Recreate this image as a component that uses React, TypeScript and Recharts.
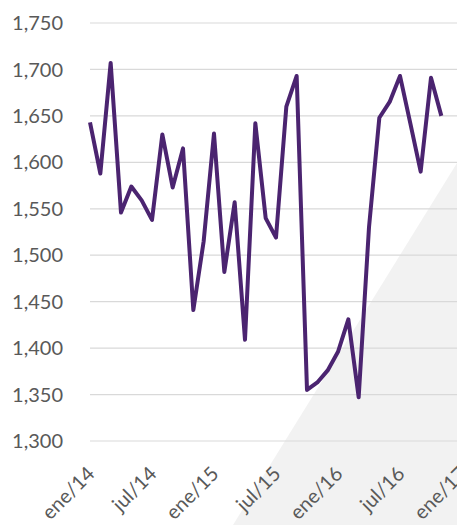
import React from "react";
import { LineChart, Line, XAxis, YAxis, CartesianGrid } from "recharts";

const months = [
    "ene/14", "feb/14", "mar/14", "abr/14", "may/14", "jun/14",
    "jul/14", "ago/14", "sep/14", "oct/14", "nov/14", "dic/14",
    "ene/15", "feb/15", "mar/15", "abr/15", "may/15", "jun/15",
    "jul/15", "ago/15", "sep/15", "oct/15", "nov/15", "dic/15",
    "ene/16", "feb/16", "mar/16", "abr/16", "may/16", "jun/16",
    "jul/16", "ago/16", "sep/16", "oct/16", "nov/16",
];

const values = [
    1643, 1588, 1707, 1546, 1574, 1559, 1538, 1630, 1573, 1615, 1441, 1515,
    1631, 1482, 1557, 1409, 1642, 1540, 1519, 1660, 1693, 1355, 1363, 1376,
    1396, 1431, 1347, 1530, 1648, 1665, 1693, 1642, 1590, 1691, 1650,
];

const xTicks = [0, 6, 12, 18, 24, 30, 36];
const xTickLabels = ["ene/14", "jul/14", "ene/15", "jul/15", "ene/16", "jul/16", "ene/17"];
const yTicks = [1300, 1350, 1400, 1450, 1500, 1550, 1600, 1650, 1700, 1750];

const data = values.map((value, i) => ({ i, month: months[i], value }));

const FONT = "Lato, 'DejaVu Sans', sans-serif";

// x labels sit diagonally, ending just under their tick
function XTick(props: any) {
    const { x, payload } = props;
    const idx = xTicks.indexOf(payload.value);
    return (
        <g transform={`translate(${x + 6},${475})`}>
            <text
                transform="rotate(-45)"
                textAnchor="end"
                fill="#595959"
                fontSize={20}
                fontFamily={FONT}
            >
                {xTickLabels[idx]}
            </text>
        </g>
    );
}

export default function App() {
    return (
        <div
            style={{
                position: "fixed",
                left: 0,
                top: 0,
                width: 457,
                height: 525,
                overflow: "hidden",
                background: "#ffffff",
            }}
        >
            {/* light grey corner decoration behind the chart */}
            <svg
                width={457}
                height={525}
                style={{ position: "absolute", left: 0, top: 0 }}
            >
                <polygon points="457,163 457,525 233,525" fill="#f2f2f2" />
            </svg>
            <div style={{ position: "absolute", left: 0, top: 0 }}>
                <LineChart
                    width={480}
                    height={525}
                    data={data}
                    margin={{ top: 23, right: 18, bottom: 0, left: 0 }}
                >
                    <CartesianGrid vertical={false} stroke="#d9d9d9" strokeWidth={1.2} />
                    <XAxis
                        dataKey="i"
                        type="number"
                        domain={[0, 36]}
                        ticks={xTicks}
                        interval={0}
                        axisLine={false}
                        tickLine={false}
                        height={84}
                        tick={<XTick />}
                    />
                    <YAxis
                        domain={[1300, 1750]}
                        ticks={yTicks}
                        interval={0}
                        width={90}
                        axisLine={false}
                        tickLine={false}
                        tickSize={0}
                        tickMargin={27}
                        tickFormatter={(v: number) => v.toLocaleString("en-US")}
                        tick={{ fill: "#595959", fontSize: 20, fontFamily: FONT }}
                    />
                    <Line
                        type="linear"
                        dataKey="value"
                        stroke="#4b2470"
                        strokeWidth={4}
                        strokeLinejoin="round"
                        dot={false}
                        isAnimationActive={false}
                    />
                </LineChart>
            </div>
        </div>
    );
}
